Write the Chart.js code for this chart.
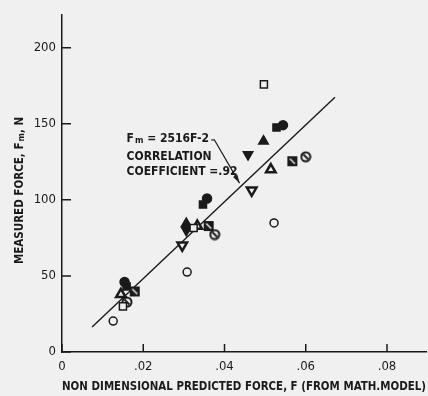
<!DOCTYPE html>
<html>
<head>
<meta charset="utf-8">
<script src="https://cdn.jsdelivr.net/npm/chart.js@4/dist/chart.umd.min.js"></script>
<style>
  html, body { margin: 0; padding: 0; background: #f0f0f0; }
  #wrap { width: 428px; height: 396px; }
</style>
</head>
<body>
<div id="wrap"><canvas id="grafico" width="428" height="396"></canvas></div>
<script>
// data: [F, Fm]
const circulosAbertos = [[0.0126, 20.3], [0.0308, 52.5], [0.0522, 84.8]]
const circulosCheios = [[0.0154, 46.0], [0.0357, 100.9], [0.0544, 149.1]]
const quadradosAbertos = [[0.0150, 30.0], [0.0324, 81.5], [0.0497, 175.9]]
const quadradosCheios = [[0.0159, 43.1], [0.0347, 96.9], [0.0528, 147.6]]
const triangulosCheios = [[0.0306, 84.4], [0.0496, 138.6]]
const invertidosCheios = [[0.0306, 80.0], [0.0458, 129.8]]
const triangulosAbertos = [[0.0145, 37.9], [0.0333, 82.8], [0.0514, 119.9]]
const invertidosAbertos = [[0.0296, 70.1], [0.0467, 106.3]]
const quadradosRiscados = [[0.0179, 39.8], [0.0361, 82.8], [0.0567, 125.4]]
const circulosRiscados = [[0.0160, 32.8], [0.0376, 77.2], [0.0600, 128.3]]
const retaAjuste = [[0.0074, 16.5], [0.0672, 167.5]]

const ticksX = [0, 0.02, 0.04, 0.06, 0.08]
const ticksY = [0, 50, 100, 150, 200]
const limiteX = 0.0896
const limiteY = 221.5

const FONTE = '"Liberation Sans Narrow", "DejaVu Sans Condensed", "Arial Narrow", sans-serif'
const TINTA = '#1a1a1a'

const pontos = arr => arr.map(p => ({ x: p[0], y: p[1] }))

function marcador(desenha) {
  const c = document.createElement('canvas')
  c.width = 12
  c.height = 12
  const g = c.getContext('2d')
  g.strokeStyle = TINTA
  g.fillStyle = TINTA
  desenha(g)
  return c
}

const quadradoRiscado = marcador(g => {
  g.fillRect(1, 1, 10, 10)
  g.fillStyle = '#f0f0f0'
  g.beginPath()
  g.moveTo(3, 4); g.lineTo(4, 3); g.lineTo(9, 8); g.lineTo(8, 9)
  g.closePath()
  g.fill()
})

const circuloRiscado = marcador(g => {
  g.lineWidth = 2
  g.fillStyle = '#f0f0f0'
  g.beginPath()
  g.arc(6, 6, 4.5, 0, Math.PI * 2)
  g.fill()
  g.stroke()
  g.beginPath()
  g.moveTo(3.5, 3.5); g.lineTo(8.5, 8.5)
  g.stroke()
})

function serie(dados, estilo, extra) {
  return Object.assign({
    type: 'scatter',
    data: pontos(dados),
    pointStyle: estilo,
    pointRadius: 4.5,
    pointBorderWidth: 1.5,
    pointBorderColor: TINTA,
    pointBackgroundColor: '#f0f0f0',
    order: 1
  }, extra || {})
}

const anotacao = {
  id: 'anotacao',
  beforeDraw(chart) {
    const ctx = chart.ctx
    ctx.save()
    ctx.fillStyle = '#f0f0f0'
    ctx.fillRect(0, 0, chart.width, chart.height)
    ctx.restore()
  },
  afterDraw(chart) {
    const ctx = chart.ctx
    const sx = chart.scales.x
    const sy = chart.scales.y
    ctx.save()
    ctx.fillStyle = TINTA
    ctx.strokeStyle = TINTA

    // tick marks pointing inward
    ctx.lineWidth = 1.5
    ctx.beginPath()
    ticksX.forEach(v => {
      const px = sx.getPixelForValue(v)
      ctx.moveTo(px, sy.bottom)
      ctx.lineTo(px, sy.bottom - 8)
    })
    ticksY.forEach(v => {
      const py = sy.getPixelForValue(v)
      ctx.moveTo(sx.left, py)
      ctx.lineTo(sx.left + 9, py)
    })
    ctx.stroke()

    // equation note
    const x0 = sx.getPixelForValue(0.0159)
    ctx.textBaseline = 'middle'
    ctx.textAlign = 'left'
    ctx.font = 'bold 12px ' + FONTE
    let y1 = sy.getPixelForValue(140)
    ctx.fillText('F', x0, y1)
    let w = ctx.measureText('F').width
    ctx.font = 'bold 9px ' + FONTE
    ctx.fillText('m', x0 + w + 1, y1 + 2)
    w += ctx.measureText('m').width + 1
    ctx.font = 'bold 12px ' + FONTE
    ctx.fillText(' = 2516F-2', x0 + w, y1)
    w += ctx.measureText(' = 2516F-2').width
    ctx.fillText('CORRELATION', x0, sy.getPixelForValue(128.5))
    ctx.fillText('COEFFICIENT =.92', x0, sy.getPixelForValue(118.5))

    // leader and arrow
    const ax = sx.getPixelForValue(0.0375)
    const ay = sy.getPixelForValue(139.5)
    const tx = sx.getPixelForValue(0.0437)
    const ty = sy.getPixelForValue(111)
    ctx.lineWidth = 1.2
    ctx.beginPath()
    ctx.moveTo(x0 + w + 2, y1 + 1)
    ctx.lineTo(ax, ay)
    ctx.lineTo(tx, ty)
    ctx.stroke()
    const ang = Math.atan2(ty - ay, tx - ax)
    ctx.beginPath()
    ctx.moveTo(tx, ty)
    ctx.lineTo(tx - 9 * Math.cos(ang - 0.28), ty - 9 * Math.sin(ang - 0.28))
    ctx.lineTo(tx - 9 * Math.cos(ang + 0.28), ty - 9 * Math.sin(ang + 0.28))
    ctx.closePath()
    ctx.fill()

    // y axis title with subscript
    ctx.translate(20, (sy.top + sy.bottom) / 2 + 7)
    ctx.rotate(-Math.PI / 2)
    const p1 = 'MEASURED FORCE, F'
    const p3 = ', N'
    ctx.font = 'bold 11.5px ' + FONTE
    const w1 = ctx.measureText(p1).width
    const w3 = ctx.measureText(p3).width
    ctx.font = 'bold 9px ' + FONTE
    const w2 = ctx.measureText('m').width + 1
    let cx = -(w1 + w2 + w3) / 2
    ctx.font = 'bold 11.5px ' + FONTE
    ctx.fillText(p1, cx, 0)
    ctx.font = 'bold 9px ' + FONTE
    ctx.fillText('m', cx + w1 + 1, 2)
    ctx.font = 'bold 11.5px ' + FONTE
    ctx.fillText(p3, cx + w1 + w2, 0)
    ctx.restore()
  }
}

new Chart(document.querySelector('#grafico'), {
  type: 'scatter',
  data: {
    datasets: [
      serie(circulosAbertos, 'circle', { pointRadius: 4 }),
      serie(circulosCheios, 'circle', { pointBackgroundColor: TINTA }),
      serie(quadradosAbertos, 'rect', { pointRadius: 5 }),
      serie(quadradosCheios, 'rect', { pointRadius: 5, pointBackgroundColor: TINTA }),
      serie(triangulosCheios, 'triangle', { pointRadius: 5.5, pointBackgroundColor: TINTA }),
      serie(invertidosCheios, 'triangle', { pointRadius: 5.5, pointRotation: 180, pointBackgroundColor: TINTA }),
      serie(triangulosAbertos, 'triangle', { pointRadius: 5.5, pointBorderWidth: 2.5 }),
      serie(invertidosAbertos, 'triangle', { pointRadius: 5.5, pointRotation: 180, pointBorderWidth: 2.5 }),
      serie(quadradosRiscados, quadradoRiscado),
      serie(circulosRiscados, circuloRiscado),
      {
        type: 'line',
        data: pontos(retaAjuste),
        borderColor: TINTA,
        borderWidth: 1.4,
        pointRadius: 0,
        fill: false,
        order: 10
      }
    ]
  },
  options: {
    responsive: false,
    animation: false,
    layout: { autoPadding: false, padding: { top: 15, right: 2, left: 0, bottom: 0 } },
    plugins: { legend: { display: false }, tooltip: { enabled: false } },
    scales: {
      x: {
        type: 'linear',
        min: 0,
        max: limiteX,
        afterFit: s => { s.height = 44; s.paddingLeft = 0; s.paddingRight = 0 },
        afterBuildTicks: s => { s.ticks = ticksX.map(v => ({ value: v })) },
        grid: { display: false, drawTicks: false },
        border: { display: true, color: TINTA, width: 1.5 },
        ticks: {
          padding: 7,
          color: TINTA,
          font: { family: FONTE, size: 13 },
          callback: v => v === 0 ? '0' : v.toFixed(2).replace(/^0/, '')
        },
        title: {
          display: true,
          text: 'NON DIMENSIONAL PREDICTED FORCE, F (FROM MATH.MODEL)',
          color: TINTA,
          font: { family: FONTE, size: 11.6, weight: 'bold' },
          padding: { top: 0, bottom: 2 }
        }
      },
      y: {
        type: 'linear',
        min: 0,
        max: limiteY,
        afterFit: s => { s.width = 62; s.paddingTop = 0; s.paddingBottom = 0 },
        afterBuildTicks: s => { s.ticks = ticksY.map(v => ({ value: v })) },
        grid: { display: false, drawTicks: false },
        border: { display: true, color: TINTA, width: 1.5 },
        ticks: {
          padding: 6,
          color: TINTA,
          font: { family: FONTE, size: 13 }
        }
      }
    }
  },
  plugins: [anotacao]
})
</script>
</body>
</html>
